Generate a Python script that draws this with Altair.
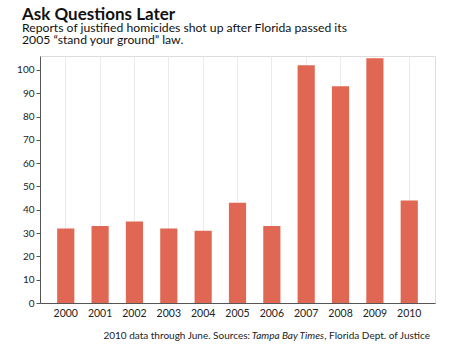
import altair as alt
import pandas as pd

years = ["2000", "2001", "2002", "2003", "2004", "2005", "2006", "2007", "2008", "2009", "2010"]
homicides = [32, 33, 35, 32, 31, 43, 33, 102, 93, 105, 44]

title_text = ["Ask Questions Later"]
subtitle_lines = ["Reports of justified homicides shot up after Florida passed its",
                  "2005 \u201cstand your ground\u201d law."]
footer_parts = ["2010 data through June. Sources:", "Tampa Bay Times", ", Florida Dept. of Justice"]

FONT = "Lato"
df = pd.DataFrame({"year": years, "value": homicides})

bars = alt.Chart(df).mark_bar(color="#e06753").encode(
    x=alt.X("year:O", title=None,
            scale=alt.Scale(paddingInner=0.5, paddingOuter=0.5),
            axis=alt.Axis(labelAngle=0, ticks=False, grid=True, bandPosition=0.5,
                          gridColor="#ebebeb", domainColor="#555555",
                          labelFont=FONT, labelFontSize=10.5, labelColor="#222222",
                          labelPadding=5)),
    y=alt.Y("value:Q", title=None,
            scale=alt.Scale(domain=[0, 106], nice=False),
            axis=alt.Axis(values=list(range(0, 101, 10)), grid=False,
                          tickSize=4, tickColor="#555555", domainColor="#555555",
                          labelFont=FONT, labelFontSize=10, labelColor="#222222",
                          labelPadding=2)),
)

def txt(data_list, x, y, size, weight="normal", style="normal", align="left", color="#111111"):
    d = pd.DataFrame({"t": data_list})
    return alt.Chart(d).mark_text(align=align, baseline="alphabetic", font=FONT,
                                  fontSize=size, fontWeight=weight, fontStyle=style,
                                  color=color).encode(
        text="t:N", x=alt.value(x), y=alt.value(y))

title = txt(title_text[:1], -18, -36, 17, weight="bold")
sub1 = txt(subtitle_lines[:1], -18, -24, 12.2)
sub2 = txt(subtitle_lines[1:2], -18, -12, 12.2)

foot3 = txt(footer_parts[2:3], 390, 283, 10, align="right", color="#222222")
foot2 = txt(footer_parts[1:2], 284, 283, 10, style="italic", align="right", color="#222222")
foot1 = txt(footer_parts[0:1], 210, 283, 10, align="right", color="#222222")

chart = alt.layer(bars, title, sub1, sub2, foot1, foot2, foot3).properties(
    width=395, height=247,
    autosize=alt.AutoSizeParams(type="none"),
    padding={"left": 40, "top": 56, "right": 20, "bottom": 44},
).configure_view(stroke="#efefef").configure(background="white")

chart.save("out.html", embed_options={"renderer": "svg", "actions": False})
